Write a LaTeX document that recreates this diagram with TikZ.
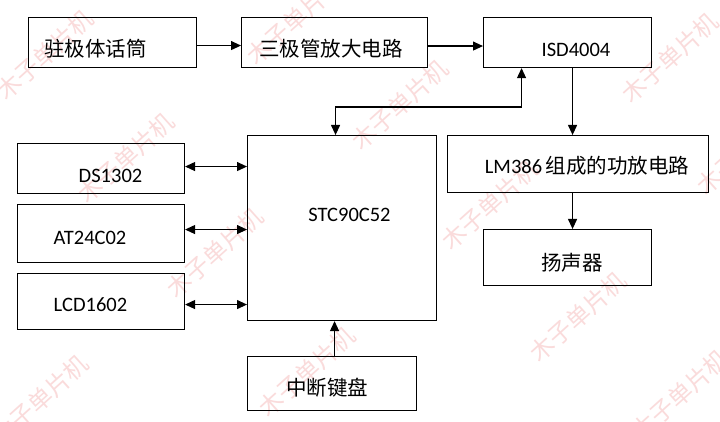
\documentclass[tikz,border=0pt]{standalone}
\usepackage{fontspec}
\setmainfont{Carlito}
\newfontfamily\cjk{Noto Sans CJK SC}
\usetikzlibrary{arrows.meta}
\definecolor{wm}{RGB}{246,190,190}
\tikzset{
  blk/.style={draw=black, line width=1.1pt, rectangle, inner sep=0pt, anchor=north west},
  lbl/.style={anchor=base, inner sep=0pt, font=\fontsize{20.5}{24}\selectfont},
  arr/.style={line width=1.1pt, -{Triangle[length=10pt,width=9pt]}},
  barr/.style={line width=1.1pt, {Triangle[length=10pt,width=9pt]}-{Triangle[length=10pt,width=9pt]}},
  wmark/.style={text=wm, opacity=0.55, rotate=42, inner sep=0pt, font=\cjk\fontsize{24}{26}\selectfont}
}
\begin{document}
\begin{tikzpicture}[x=1pt,y=-1pt]
\useasboundingbox[fill=white] (0,0) rectangle (720,422);
% watermarks
\foreach \wx/\wy [count=\i] in {45/55,295/20,400/105,670/58,126/158,215/253,490/205,745/150,307/372,578/317,40/400,680/395,-50/300}
  \node[wmark] (wm\i) at (\wx,\wy) {木子单片机};
% boxes
\node[blk, minimum width=168pt, minimum height=50pt] (mic) at (28,17) {};
\node[blk, minimum width=186pt, minimum height=50pt] (amp) at (241,17) {};
\node[blk, minimum width=168pt, minimum height=50pt] (isd) at (483,17) {};
\node[blk, minimum width=189pt, minimum height=185pt] (stc) at (247,135) {};
\node[blk, minimum width=261pt, minimum height=57pt] (lm) at (447,135) {};
\node[blk, minimum width=168pt, minimum height=56pt] (spk) at (483,229) {};
\node[blk, minimum width=167pt, minimum height=50pt] (ds) at (17,143) {};
\node[blk, minimum width=167pt, minimum height=58pt] (at) at (17,204) {};
\node[blk, minimum width=167pt, minimum height=56pt] (lcd) at (17,273) {};
\node[blk, minimum width=169pt, minimum height=54pt] (key) at (247,356) {};
% labels
\node[lbl] (tmic) at (95.5,57) {\cjk 驻极体话筒};
\node[lbl] (tamp) at (331,57) {\cjk 三极管放大电路};
\node[lbl] (tisd) at (576,57) {ISD4004};
\node[lbl] (tstc) at (349.5,222) {STC90C52};
\node[lbl] (tlm) at (587,174) {LM386\,{\cjk 组成的功放电路}};
\node[lbl] (tspk) at (572,270) {\cjk 扬声器};
\node[lbl] (tds) at (110.5,183) {DS1302};
\node[lbl] (tat) at (90,244) {AT24C02};
\node[lbl] (tlcd) at (90.5,311) {LCD1602};
\node[lbl] (tkey) at (327,395) {\cjk 中断键盘};
% connectors
\draw[arr] ([yshift=-3pt]mic.east) -- ([yshift=-3pt]mic.east -| amp.west);
\draw[arr] ([yshift=-3.5pt]amp.east) -- ([yshift=-3.5pt]amp.east -| isd.west);
\draw[arr] ([xshift=5pt]isd.south) -- ([xshift=5pt]isd.south |- lm.north);
\draw[arr] ([xshift=5pt]spk.north |- lm.south) -- ([xshift=5pt]spk.north);
\draw[barr] ([xshift=-6.5pt]stc.north) -- ++(0,-28) -| ([xshift=-46pt]isd.south);
\draw[barr] ([yshift=2pt]ds.east) -- ([yshift=2pt]ds.east -| stc.west);
\draw[barr] ([yshift=4pt]at.east) -- ([yshift=4pt]at.east -| stc.west);
\draw[barr] ([yshift=-3pt]lcd.east) -- ([yshift=-3pt]lcd.east -| stc.west);
\draw[arr] ([xshift=2.5pt]key.north) -- ([xshift=2.5pt]key.north |- stc.south);
\end{tikzpicture}
\end{document}
